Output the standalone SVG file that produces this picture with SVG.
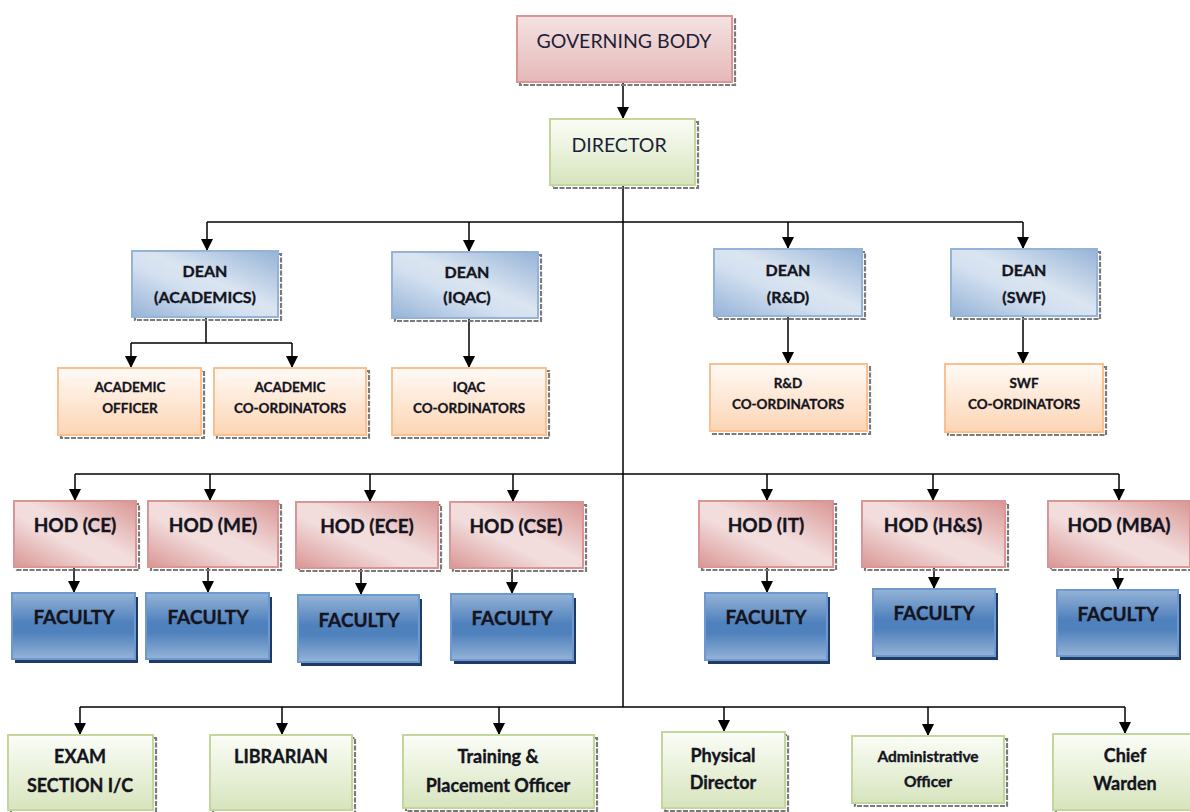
<svg xmlns="http://www.w3.org/2000/svg" width="1190" height="812" viewBox="0 0 1190 812">
<style>
text{font-family:Lato,"Liberation Sans",sans-serif;text-anchor:middle;fill:#141420}
.r{font-weight:400;font-size:19.5px;fill:#1c1f38}
.dn,.co,.hd,.fc,.bt,.sm{font-weight:700;stroke:#141420;stroke-width:0.35}
.dn{font-size:16px}
.co{font-size:13.5px;stroke-width:0.3}
.hd{font-size:19px}
.fc{font-size:19px}
.bt{font-size:18px}
.sm{font-size:15.5px}
.sh{fill:none;stroke:#7a7a7a;stroke-width:2.2;stroke-dasharray:5 1.5}
.fsh{fill:#1f3b63}
.gb{fill:url(#gGB);stroke:#d99694;stroke-width:2}
.hod{fill:url(#gHod);stroke:#d99694;stroke-width:2}
.gr{fill:url(#gGr);stroke:#c3d69b;stroke-width:2}
.dean{fill:url(#gDean);stroke:#95b3d7;stroke-width:2}
.or{fill:url(#gOr);stroke:#fac090;stroke-width:2}
.fac{fill:url(#gFac);stroke:#6d98d0;stroke-width:2}
.ln{fill:none;stroke:#000;stroke-width:1.5}
.ar{fill:none;stroke:#000;stroke-width:1.5;marker-end:url(#ah)}
</style>
<defs>
<marker id="ah" viewBox="0 0 10 10" refX="10" refY="5" markerWidth="12" markerHeight="12" markerUnits="userSpaceOnUse" orient="auto"><path d="M0,0 L10,5 L0,10 z" fill="#000"/></marker>
<linearGradient id="gGB" x1="0" y1="0" x2="0" y2="1"><stop offset="0" stop-color="#f5e2e2"/><stop offset="1" stop-color="#e6b8b8"/></linearGradient>
<linearGradient id="gHod" x1="1" y1="0" x2="0" y2="1"><stop offset="0" stop-color="#d99694"/><stop offset="0.45" stop-color="#f2dcdc"/><stop offset="0.6" stop-color="#f2dcdc"/><stop offset="1" stop-color="#d99694"/></linearGradient>
<linearGradient id="gGr" x1="0" y1="0" x2="0" y2="1"><stop offset="0" stop-color="#fbfdf7"/><stop offset="1" stop-color="#d7e4bd"/></linearGradient>
<linearGradient id="gDean" x1="1" y1="0" x2="0" y2="1"><stop offset="0" stop-color="#95b3d7"/><stop offset="0.45" stop-color="#dbe5f1"/><stop offset="0.6" stop-color="#d3e0f0"/><stop offset="1" stop-color="#95b3d7"/></linearGradient>
<linearGradient id="gOr" x1="0" y1="0" x2="0" y2="1"><stop offset="0" stop-color="#fffaf6"/><stop offset="1" stop-color="#fcd5b4"/></linearGradient>
<linearGradient id="gFac" x1="0" y1="0" x2="0" y2="1"><stop offset="0" stop-color="#95b3d7"/><stop offset="0.45" stop-color="#4f81bd"/><stop offset="0.6" stop-color="#4f81bd"/><stop offset="1" stop-color="#95b3d7"/></linearGradient>
</defs>

<g id="connectors">
<path class="ar" d="M623,82 V119"/>
<path class="ln" d="M623,185 V707"/>
<path class="ln" d="M207,222 H1023"/>
<path class="ar" d="M207,222 V251"/>
<path class="ar" d="M469,222 V252"/>
<path class="ar" d="M788,222 V249"/>
<path class="ar" d="M1023,222 V249"/>
<path class="ln" d="M206,317 V343 M131,343 H292"/>
<path class="ar" d="M131,343 V368"/>
<path class="ar" d="M292,343 V368"/>
<path class="ar" d="M469,318 V368"/>
<path class="ar" d="M788,316 V364"/>
<path class="ar" d="M1023,316 V364"/>
<path class="ln" d="M75,474 H1119"/>
<path class="ar" d="M75,474 V501"/>
<path class="ar" d="M210,474 V501"/>
<path class="ar" d="M370,474 V502"/>
<path class="ar" d="M513,474 V502"/>
<path class="ar" d="M767,474 V501"/>
<path class="ar" d="M933,474 V501"/>
<path class="ar" d="M1119,474 V501"/>
<path class="ar" d="M74,567 V593"/>
<path class="ar" d="M208,567 V593"/>
<path class="ar" d="M361,568 V595"/>
<path class="ar" d="M512,568 V594"/>
<path class="ar" d="M767,567 V593"/>
<path class="ar" d="M934,567 V589"/>
<path class="ar" d="M1118,567 V590"/>
<path class="ln" d="M80,707 H1125"/>
<path class="ar" d="M80,707 V735"/>
<path class="ar" d="M282,707 V735"/>
<path class="ar" d="M499,707 V735"/>
<path class="ar" d="M724,707 V732"/>
<path class="ar" d="M928,707 V736"/>
<path class="ar" d="M1125,707 V734"/>
</g>

<g id="governing-body"><rect class="sh" x="520" y="19" width="215" height="66"/><rect class="gb" x="517" y="16" width="215" height="66"/><text class="r" x="624" y="48">GOVERNING BODY</text></g>
<g id="director"><rect class="sh" x="553" y="122" width="145" height="66"/><rect class="gr" x="550" y="119" width="145" height="66"/><text class="r" x="619" y="152">DIRECTOR</text></g>

<g id="dean-academics"><rect class="sh" x="135" y="254" width="146" height="66"/><rect class="dean" x="132" y="251" width="146" height="66"/><text class="dn" x="205" y="277">DEAN</text><text class="dn" x="205" y="303">(ACADEMICS)</text></g>
<g id="dean-iqac"><rect class="sh" x="395" y="255" width="146" height="66"/><rect class="dean" x="392" y="252" width="146" height="66"/><text class="dn" x="467" y="278">DEAN</text><text class="dn" x="467" y="303">(IQAC)</text></g>
<g id="dean-rd"><rect class="sh" x="717" y="252" width="148" height="67"/><rect class="dean" x="714" y="249" width="148" height="67"/><text class="dn" x="788" y="276">DEAN</text><text class="dn" x="788" y="303">(R&amp;D)</text></g>
<g id="dean-swf"><rect class="sh" x="954" y="252" width="146" height="67"/><rect class="dean" x="951" y="249" width="146" height="67"/><text class="dn" x="1024" y="276">DEAN</text><text class="dn" x="1024" y="303">(SWF)</text></g>

<g id="academic-officer"><rect class="sh" x="61" y="371" width="143" height="67"/><rect class="or" x="58" y="368" width="143" height="67"/><text class="co" x="130" y="392">ACADEMIC</text><text class="co" x="130" y="413">OFFICER</text></g>
<g id="academic-coordinators"><rect class="sh" x="217" y="371" width="152" height="67"/><rect class="or" x="214" y="368" width="152" height="67"/><text class="co" x="290" y="392">ACADEMIC</text><text class="co" x="290" y="413">CO-ORDINATORS</text></g>
<g id="iqac-coordinators"><rect class="sh" x="395" y="371" width="154" height="67"/><rect class="or" x="392" y="368" width="154" height="67"/><text class="co" x="469" y="392">IQAC</text><text class="co" x="469" y="413">CO-ORDINATORS</text></g>
<g id="rd-coordinators"><rect class="sh" x="713" y="367" width="157" height="67"/><rect class="or" x="710" y="364" width="157" height="67"/><text class="co" x="788" y="388">R&amp;D</text><text class="co" x="788" y="409">CO-ORDINATORS</text></g>
<g id="swf-coordinators"><rect class="sh" x="948" y="367" width="158" height="68"/><rect class="or" x="945" y="364" width="158" height="68"/><text class="co" x="1024" y="388">SWF</text><text class="co" x="1024" y="409">CO-ORDINATORS</text></g>

<g id="hod-ce"><rect class="sh" x="17" y="504" width="122" height="66"/><rect class="hod" x="14" y="501" width="122" height="66"/><text class="hd" x="75" y="532">HOD (CE)</text></g>
<g id="hod-me"><rect class="sh" x="151" y="504" width="130" height="66"/><rect class="hod" x="148" y="501" width="130" height="66"/><text class="hd" x="213" y="532">HOD (ME)</text></g>
<g id="hod-ece"><rect class="sh" x="299" y="505" width="142" height="66"/><rect class="hod" x="296" y="502" width="142" height="66"/><text class="hd" x="367" y="533">HOD (ECE)</text></g>
<g id="hod-cse"><rect class="sh" x="453" y="505" width="133" height="66"/><rect class="hod" x="450" y="502" width="133" height="66"/><text class="hd" x="516" y="533">HOD (CSE)</text></g>
<g id="hod-it"><rect class="sh" x="702" y="504" width="134" height="66"/><rect class="hod" x="699" y="501" width="134" height="66"/><text class="hd" x="766" y="532">HOD (IT)</text></g>
<g id="hod-hs"><rect class="sh" x="865" y="504" width="143" height="66"/><rect class="hod" x="862" y="501" width="143" height="66"/><text class="hd" x="933" y="532">HOD (H&amp;S)</text></g>
<g id="hod-mba"><rect class="sh" x="1051" y="504" width="142" height="66"/><rect class="hod" x="1048" y="501" width="142" height="66"/><text class="hd" x="1119" y="532">HOD (MBA)</text></g>

<g id="faculty-ce"><rect class="fsh" x="15" y="597" width="123" height="66"/><rect class="fac" x="12" y="593" width="123" height="66"/><text class="fc" x="74" y="624">FACULTY</text></g>
<g id="faculty-me"><rect class="fsh" x="149" y="597" width="123" height="66"/><rect class="fac" x="146" y="593" width="123" height="66"/><text class="fc" x="208" y="624">FACULTY</text></g>
<g id="faculty-ece"><rect class="fsh" x="301" y="599" width="121" height="67"/><rect class="fac" x="298" y="595" width="121" height="67"/><text class="fc" x="359" y="627">FACULTY</text></g>
<g id="faculty-cse"><rect class="fsh" x="454" y="598" width="122" height="66"/><rect class="fac" x="451" y="594" width="122" height="66"/><text class="fc" x="512" y="625">FACULTY</text></g>
<g id="faculty-it"><rect class="fsh" x="708" y="597" width="122" height="67"/><rect class="fac" x="705" y="593" width="122" height="67"/><text class="fc" x="766" y="624">FACULTY</text></g>
<g id="faculty-hs"><rect class="fsh" x="876" y="593" width="122" height="67"/><rect class="fac" x="873" y="589" width="122" height="67"/><text class="fc" x="934" y="620">FACULTY</text></g>
<g id="faculty-mba"><rect class="fsh" x="1060" y="594" width="121" height="66"/><rect class="fac" x="1057" y="590" width="121" height="66"/><text class="fc" x="1118" y="621">FACULTY</text></g>

<g id="exam-section"><rect class="sh" x="11" y="738" width="145" height="75"/><rect class="gr" x="8" y="735" width="145" height="75"/><text class="bt" x="80" y="763">EXAM</text><text class="bt" x="80" y="792">SECTION I/C</text></g>
<g id="librarian"><rect class="sh" x="213" y="738" width="142" height="75"/><rect class="gr" x="210" y="735" width="142" height="75"/><text class="bt" x="281" y="763">LIBRARIAN</text></g>
<g id="training-placement"><rect class="sh" x="406" y="738" width="191" height="73"/><rect class="gr" x="403" y="735" width="191" height="73"/><text class="bt" x="498" y="763">Training &amp;</text><text class="bt" x="498" y="792">Placement Officer</text></g>
<g id="physical-director"><rect class="sh" x="665" y="735" width="123" height="76"/><rect class="gr" x="662" y="732" width="123" height="76"/><text class="bt" x="723" y="762">Physical</text><text class="bt" x="723" y="789">Director</text></g>
<g id="administrative-officer"><rect class="sh" x="855" y="739" width="152" height="67"/><rect class="gr" x="852" y="736" width="152" height="67"/><text class="sm" x="928" y="762">Administrative</text><text class="sm" x="928" y="787">Officer</text></g>
<g id="chief-warden"><rect class="sh" x="1056" y="737" width="142" height="76"/><rect class="gr" x="1053" y="734" width="142" height="76"/><text class="bt" x="1125" y="762">Chief</text><text class="bt" x="1125" y="790">Warden</text></g>
</svg>
